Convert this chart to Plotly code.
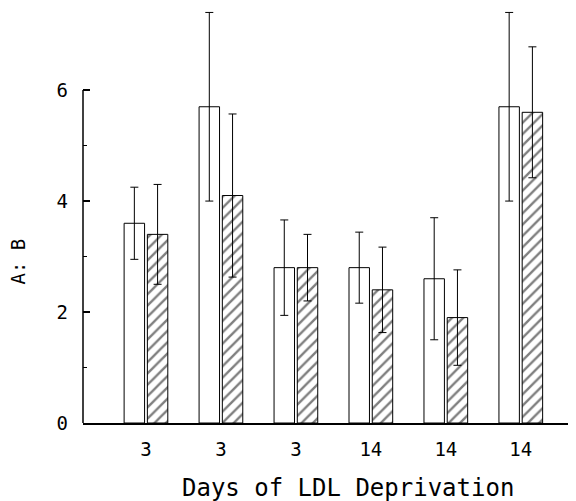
import plotly.graph_objects as go

categories = ["3", "3", "3", "14", "14", "14"]
open_values = [3.6, 5.7, 2.8, 2.8, 2.6, 5.7]
open_errors = [0.65, 1.7, 0.86, 0.64, 1.1, 1.7]
hatched_values = [3.4, 4.1, 2.8, 2.4, 1.9, 5.6]
hatched_errors = [0.9, 1.47, 0.6, 0.77, 0.86, 1.18]
y_tick_values = [0, 2, 4, 6]
y_tick_labels = ["0", "2", "4", "6"]
y_minor_values = [1, 3, 5]

positions = list(range(len(categories)))
FONT = "DejaVu Sans Mono"

fig = go.Figure()
fig.add_trace(go.Bar(
    x=positions, y=open_values,
    marker=dict(color="white", line=dict(color="black", width=1)),
    error_y=dict(type="data", array=open_errors, color="black", thickness=1, width=4),
    showlegend=False,
))
fig.add_trace(go.Bar(
    x=positions, y=hatched_values,
    marker=dict(color="white", line=dict(color="black", width=1),
                pattern=dict(shape="/", fgcolor="black", bgcolor="white", size=8, solidity=0.3)),
    error_y=dict(type="data", array=hatched_errors, color="black", thickness=1, width=4),
    showlegend=False,
))

fig.update_layout(
    width=576, height=501,
    margin=dict(l=75, r=1, t=0, b=86, autoexpand=False),
    paper_bgcolor="white", plot_bgcolor="white",
    barmode="group", bargap=0.38, bargroupgap=0.12,
    font=dict(family=FONT, color="black", size=19),
    xaxis=dict(
        range=[-0.84, 5.83], tickmode="array", tickvals=positions, ticktext=categories,
        showline=True, linecolor="black", linewidth=1.5, showgrid=False, zeroline=False,
        ticks="", tickfont=dict(size=19, family=FONT), ticklabelstandoff=8,
    ),
    yaxis=dict(
        range=[0, 7.48], tickmode="array", tickvals=y_tick_values, ticktext=y_tick_labels,
        showline=False, showgrid=False, zeroline=False,
        ticks="inside", ticklen=7, tickcolor="black", tickwidth=1.5,
        tickfont=dict(size=19, family=FONT), ticklabelstandoff=14,
        minor=dict(tickmode="array", tickvals=y_minor_values, ticks="inside", ticklen=4,
                   tickcolor="black", tickwidth=1.2, showgrid=False),
    ),
    shapes=[dict(type="line", xref="paper", yref="y", x0=0, x1=0, y0=0, y1=6,
                 line=dict(color="black", width=1.5))],
    annotations=[
        dict(text="A: B", xref="paper", yref="paper", x=-0.131, y=0.388, showarrow=False,
             textangle=-90, font=dict(size=19, family=FONT), xanchor="center", yanchor="middle"),
        dict(text="Days of LDL Deprivation", xref="paper", yref="paper", x=0.530, y=-0.157,
             showarrow=False, font=dict(size=24, family=FONT), xanchor="center", yanchor="middle"),
    ],
)

fig.write_html("out.html")
